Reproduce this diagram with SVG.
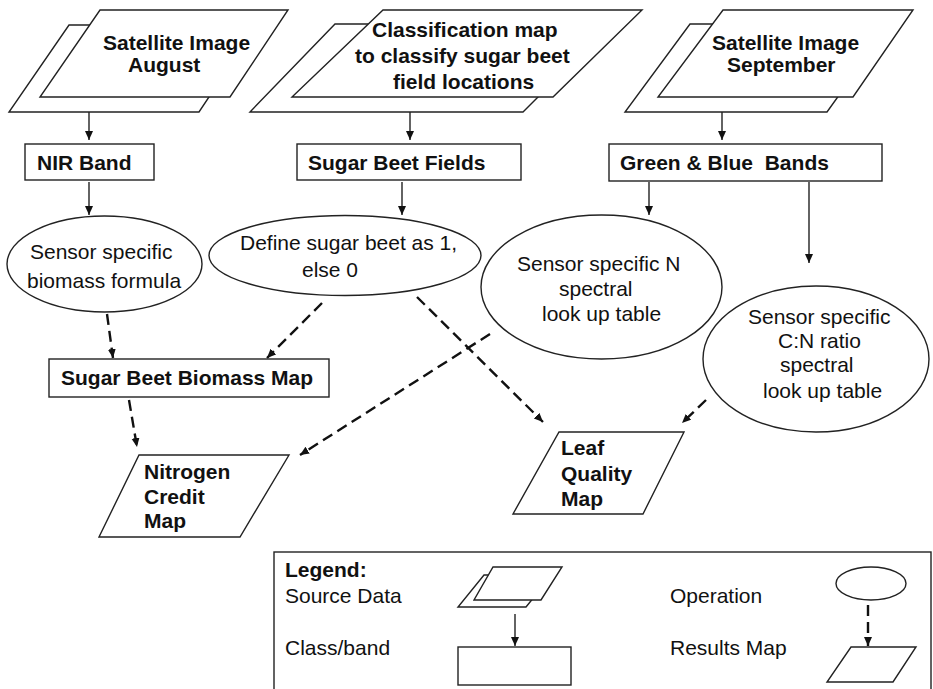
<svg xmlns="http://www.w3.org/2000/svg" width="933" height="689" viewBox="0 0 933 689">
<style>
.s{fill:#fff;stroke:#222;stroke-width:1.4}
.t{font-family:"Liberation Sans",Arial,sans-serif;font-size:21px;fill:#111}
.b{font-weight:bold}
.c{fill:none;stroke:#222;stroke-width:1.4}
.d{fill:none;stroke:#111;stroke-width:2.4;stroke-dasharray:11 6}
</style>
<defs>
<marker id="ah" markerUnits="userSpaceOnUse" markerWidth="10" markerHeight="10" refX="9" refY="4" orient="auto"><path d="M0,0 L9,4 L0,8 z" fill="#111"/></marker>
</defs>
<rect width="933" height="689" fill="#fff"/>

<g id="connectors">
<line class="c" x1="89" y1="112" x2="89" y2="140" marker-end="url(#ah)"/>
<line class="c" x1="410" y1="112" x2="410" y2="140" marker-end="url(#ah)"/>
<line class="c" x1="722" y1="112" x2="722" y2="140" marker-end="url(#ah)"/>
<line class="c" x1="89" y1="182" x2="89" y2="215" marker-end="url(#ah)"/>
<line class="c" x1="402" y1="182" x2="402" y2="215" marker-end="url(#ah)"/>
<line class="c" x1="649" y1="182" x2="649" y2="215" marker-end="url(#ah)"/>
<line class="c" x1="809" y1="182" x2="809" y2="263" marker-end="url(#ah)"/>
<line class="d" x1="107" y1="314" x2="113" y2="358" marker-end="url(#ah)"/>
<line class="d" x1="322" y1="303" x2="267" y2="358" marker-end="url(#ah)"/>
<line class="d" x1="417" y1="297" x2="543" y2="422" marker-end="url(#ah)"/>
<line class="d" x1="490" y1="334" x2="300" y2="455" marker-end="url(#ah)"/>
<line class="d" x1="706" y1="400" x2="682" y2="423" marker-end="url(#ah)"/>
<line class="d" x1="129" y1="400" x2="137" y2="447" marker-end="url(#ah)"/>
</g>

<g id="src-august">
<polygon class="s" points="69,25 257,25 199,112 9,112"/>
<polygon class="s" points="100,10 288,10 230,97 40,97"/>
<text class="t b" x="103" y="50">Satellite Image</text>
<text class="t b" x="128" y="72">August</text>
</g>

<g id="src-classification">
<polygon class="s" points="335,24 611,24 523,112 250,112"/>
<polygon class="s" points="383,10 642,10 553,97 292,97"/>
<text class="t b" x="372" y="37">Classification map</text>
<text class="t b" x="355" y="63">to classify sugar beet</text>
<text class="t b" x="393" y="89">field locations</text>
</g>

<g id="src-september">
<polygon class="s" points="690,24 890,24 827,112 625,112"/>
<polygon class="s" points="723,10 913,10 853,97 658,97"/>
<text class="t b" x="712" y="50">Satellite Image</text>
<text class="t b" x="727" y="72">September</text>
</g>

<g id="nir-band">
<rect class="s" x="25" y="144" width="129" height="36"/>
<text class="t b" x="37" y="170">NIR Band</text>
</g>

<g id="sugar-beet-fields">
<rect class="s" x="297" y="144" width="224" height="36"/>
<text class="t b" x="308" y="170">Sugar Beet Fields</text>
</g>

<g id="green-blue-bands">
<rect class="s" x="609" y="144" width="273" height="37"/>
<text class="t b" x="620" y="170" xml:space="preserve">Green &amp; Blue  Bands</text>
</g>

<g id="op-biomass">
<ellipse class="s" cx="104.5" cy="264" rx="97.5" ry="48"/>
<text class="t" x="30" y="259">Sensor specific</text>
<text class="t" x="27" y="288">biomass formula</text>
</g>

<g id="op-define">
<ellipse class="s" cx="345" cy="255.5" rx="136" ry="40"/>
<text class="t" x="240" y="250">Define sugar beet as 1,</text>
<text class="t" x="302" y="277">else 0</text>
</g>

<g id="op-n-table">
<ellipse class="s" cx="601.5" cy="287" rx="120.5" ry="72"/>
<text class="t" x="517" y="271">Sensor specific N</text>
<text class="t" x="559" y="296">spectral</text>
<text class="t" x="542" y="321">look up table</text>
</g>

<g id="op-cn-table">
<ellipse class="s" cx="816" cy="359" rx="113" ry="73"/>
<text class="t" x="748" y="324">Sensor specific</text>
<text class="t" x="778" y="348">C:N ratio</text>
<text class="t" x="780" y="372">spectral</text>
<text class="t" x="763" y="398">look up table</text>
</g>

<g id="biomass-map">
<rect class="s" x="49" y="359" width="280" height="38"/>
<text class="t b" x="61" y="385">Sugar Beet Biomass Map</text>
</g>

<g id="nitrogen-credit-map">
<polygon class="s" points="139,455 289,455 240,537 99,537"/>
<text class="t b" x="144" y="479">Nitrogen</text>
<text class="t b" x="144" y="504">Credit</text>
<text class="t b" x="144" y="528">Map</text>
</g>

<g id="leaf-quality-map">
<polygon class="s" points="559,432 684,432 643,514 513,514"/>
<text class="t b" x="561" y="455">Leaf</text>
<text class="t b" x="561" y="481">Quality</text>
<text class="t b" x="561" y="506">Map</text>
</g>

<g id="legend">
<rect class="s" x="274" y="552" width="657" height="150"/>
<text class="t b" x="285" y="577">Legend:</text>
<text class="t" x="285" y="603">Source Data</text>
<text class="t" x="285" y="655">Class/band</text>
<text class="t" x="670" y="603">Operation</text>
<text class="t" x="670" y="655">Results Map</text>
<polygon class="s" points="484,575 552,575 526,607 458,607"/>
<polygon class="s" points="493,567 562,567 541,600 474,600"/>
<line class="c" x1="515" y1="614" x2="515" y2="646" marker-end="url(#ah)"/>
<rect class="s" x="458" y="647" width="113" height="38"/>
<ellipse class="s" cx="871" cy="583.5" rx="35" ry="16.5"/>
<line class="d" x1="868" y1="605" x2="868" y2="646" marker-end="url(#ah)"/>
<polygon class="s" points="851,647 916,647 893,682 827,682"/>
</g>
</svg>
